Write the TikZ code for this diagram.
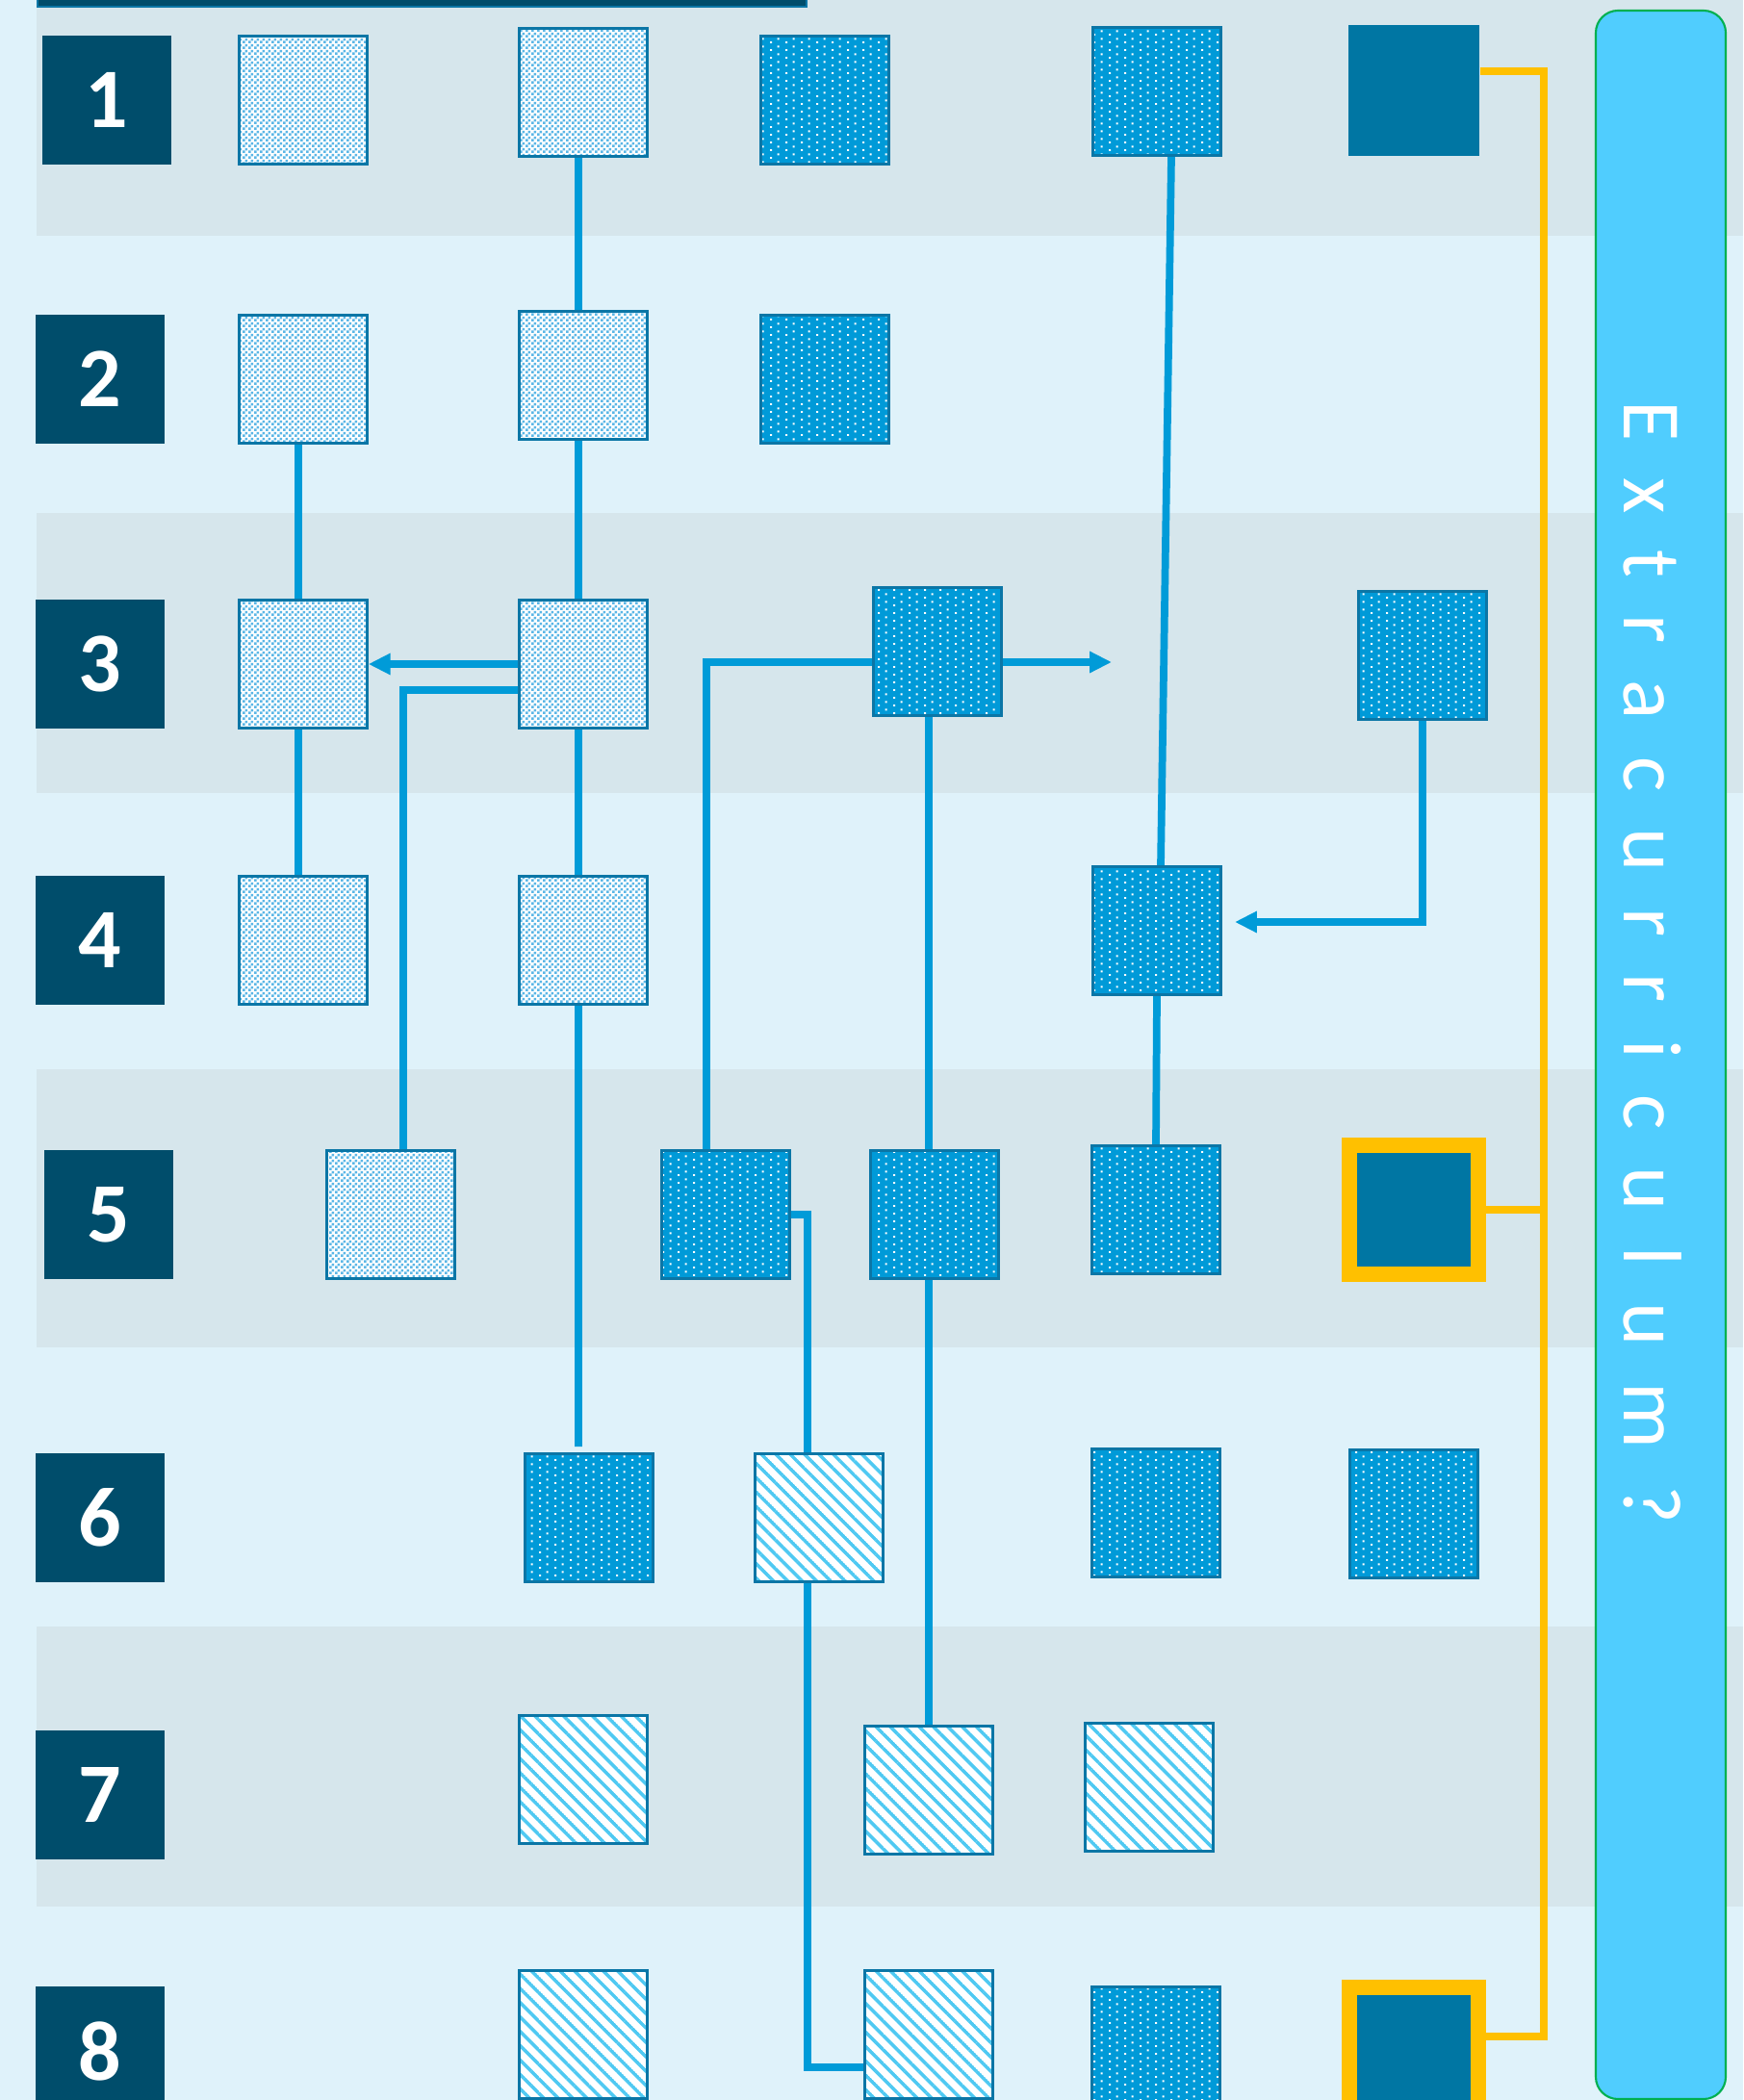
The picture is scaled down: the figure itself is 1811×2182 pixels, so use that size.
\documentclass[tikz,border=0pt]{standalone}
\usepackage{fontspec}
\setmainfont{Carlito}
\usetikzlibrary{arrows.meta,patterns.meta}

\definecolor{bglight}{HTML}{DFF2FA}
\definecolor{band}{HTML}{D6E6EC}
\definecolor{navy}{HTML}{004D6B}
\definecolor{deepteal}{HTML}{0076A3}
\definecolor{boxline}{HTML}{0B76A6}
\definecolor{dotblue}{HTML}{009AD8}
\definecolor{linkblue}{HTML}{009BD8}
\definecolor{checkblue}{HTML}{5AB6E6}
\definecolor{hatchblue}{HTML}{4FC9F2}
\definecolor{barblue}{HTML}{50CDFE}
\definecolor{barline}{HTML}{00B050}
\definecolor{gold}{HTML}{FFC000}

\tikzdeclarepattern{
  name=checker,
  type=uncolored,
  bounding box={(0,0) and (0.06cm,0.06cm)},
  tile size={(0.06cm,0.06cm)},
  code={
    \fill (0,0) rectangle (0.03cm,0.03cm);
    \fill (0.03cm,0.03cm) rectangle (0.06cm,0.06cm);
  }
}
\tikzdeclarepattern{
  name=bluedots,
  type=uncolored,
  bounding box={(0,0) and (0.16cm,0.08cm)},
  tile size={(0.16cm,0.08cm)},
  code={
    \fill (0,0) rectangle (0.022cm,0.022cm);
    \fill (0.08cm,0.04cm) rectangle (0.102cm,0.062cm);
  }
}
\tikzdeclarepattern{
  name=hatch,
  type=uncolored,
  bounding box={(0,-0.5pt) and (3pt,0.5pt)},
  tile size={(3pt,3pt)},
  tile transformation={rotate=-45},
  code={\fill (0,-0.5pt) rectangle (3pt,0.5pt);}
}

\pgfdeclarelayer{back}
\pgfdeclarelayer{links}
\pgfsetlayers{back,links,main}

\begin{document}
\begin{tikzpicture}[x=0.01cm,y=-0.01cm,
  lbl/.style={fill=navy,minimum size=1.34cm,inner sep=0,text=white,font=\bfseries\fontsize{25}{30}\selectfont},
  box/.style={draw=boxline,line width=0.7pt,minimum size=1.33cm,inner sep=0},
  chkbox/.style={box,preaction={fill=white},pattern=checker,pattern color=checkblue},
  dotbox/.style={box,preaction={fill=dotblue},pattern=bluedots,pattern color=white},
  hatbox/.style={box,preaction={fill=white},pattern=hatch,pattern color=hatchblue},
  fullbox/.style={fill=deepteal,minimum size=1.36cm,inner sep=0},
  goldbox/.style={fill=deepteal,draw=gold,line width=0.16cm,minimum size=1.34cm,inner sep=0},
  link/.style={draw=linkblue,line width=2.2pt},
  arr/.style={link,-{Triangle[length=6.5pt,width=6pt]}},
  ylink/.style={draw=gold,line width=2.2pt}]
\useasboundingbox (0,0) rectangle (1811,2182);

\begin{pgfonlayer}{back}
\fill[bglight] (0,0) rectangle (1811,2182);
\fill[band] (38,0) rectangle (1811,245);
\fill[band] (38,533) rectangle (1811,824);
\fill[band] (38,1111) rectangle (1811,1400);
\fill[band] (38,1690) rectangle (1811,1981);
\end{pgfonlayer}

\draw[boxline,fill=navy] (39,-5) rectangle (838,7);

\draw[barline,fill=barblue,line width=0.6pt,rounded corners=0.23cm] (1658,11) rectangle (1793,2181);
\node[rotate=-90,anchor=base,inner sep=0,text=white,font=\fontsize{24.5}{29}\selectfont] (xtra) at (1687,1000) {\spaceskip=0.38cm\relax E x t r a c u r r i c u l u m ?};

\node[lbl] (n1) at (111,104) {1};
\node[lbl] (n2) at (104,394) {2};
\node[lbl] (n3) at (104,690) {3};
\node[lbl] (n4) at (104,977) {4};
\node[lbl] (n5) at (113,1262) {5};
\node[lbl] (n6) at (104,1577) {6};
\node[lbl] (n7) at (104,1865) {7};
\node[lbl] (n8) at (104,2131) {8};

\node[chkbox] (r1c1) at (315,104) {};
\node[chkbox] (r1c2) at (606,96) {};
\node[dotbox] (r1c3) at (857,104) {};
\node[dotbox] (r1c4) at (1202,95) {};
\node[fullbox] (r1c5) at (1469,94) {};

\node[chkbox] (r2c1) at (315,394) {};
\node[chkbox] (r2c2) at (606,390) {};
\node[dotbox] (r2c3) at (857,394) {};

\node[chkbox] (r3c1) at (315,690) {};
\node[chkbox] (r3c2) at (606,690) {};
\node[dotbox] (r3c3) at (974,677) {};
\node[dotbox] (r3c5) at (1478,681) {};

\node[chkbox] (r4c1) at (315,977) {};
\node[chkbox] (r4c2) at (606,977) {};
\node[dotbox] (r4c4) at (1202,967) {};

\node[chkbox] (r5c1) at (406,1262) {};
\node[dotbox] (r5c2) at (754,1262) {};
\node[dotbox] (r5c3) at (971,1262) {};
\node[dotbox] (r5c4) at (1201,1257) {};
\node[goldbox] (r5c5) at (1469,1257) {};

\node[dotbox] (r6c2) at (612,1577) {};
\node[hatbox] (r6c3) at (851,1577) {};
\node[dotbox] (r6c4) at (1201,1572) {};
\node[dotbox] (r6c5) at (1469,1573) {};

\node[hatbox] (r7c2) at (606,1849) {};
\node[hatbox] (r7c3) at (965,1860) {};
\node[hatbox] (r7c4) at (1194,1857) {};

\node[hatbox] (r8c2) at (606,2114) {};
\node[hatbox] (r8c3) at (965,2114) {};
\node[dotbox] (r8c4) at (1201,2131) {};
\node[goldbox] (r8c5) at (1469,2132) {};

\coordinate (k0) at (601,1503);
\coordinate (k1) at (419,717);
\coordinate (k2) at (734,688);
\coordinate (k3) at (1155,688);
\coordinate (k5) at (1283,958);
\coordinate (k6) at (839,1262);
\coordinate (k7) at (839,2148);
\coordinate (bus) at (1604,1257);

\begin{pgfonlayer}{links}
\draw[link] ([xshift=-0.05cm]r1c2.south) -- (k0);
\draw[link] ([xshift=-0.05cm]r2c1.south) -- ([xshift=-0.05cm]r4c1.north);
\draw[arr] (r3c2.west) -- (r3c1.east);
\draw[link] (r3c2.west |- k1) -- (k1) -- (k1 |- r5c1.north);

\draw[link] (r3c3.west |- k2) -- (k2) -- (k2 |- r5c2.north);
\draw[arr] (r3c3.east |- k3) -- (k3);
\draw[link] (r7c3.north |- r3c3.south) -- (r7c3.north);

\draw[link] ([xshift=0.15cm]r1c4.south) -- ([xshift=0.04cm]r4c4.north);
\draw[link] (r4c4.south) -- (r5c4.north);
\draw[arr] (r3c5.south) |- (k5);

\draw[link] (r5c2.east) -- (k6) -- (k6 |- r6c3.north);
\draw[link] (k7 |- r6c3.south) -- (k7) -- (k7 -| r8c3.west);

\draw[ylink] ([yshift=0.2cm]r1c5.east) -| (bus) |- ([yshift=0.16cm]r8c5.east);
\draw[ylink] (r5c5.east) -- (bus);
\end{pgfonlayer}
\end{tikzpicture}
\end{document}
